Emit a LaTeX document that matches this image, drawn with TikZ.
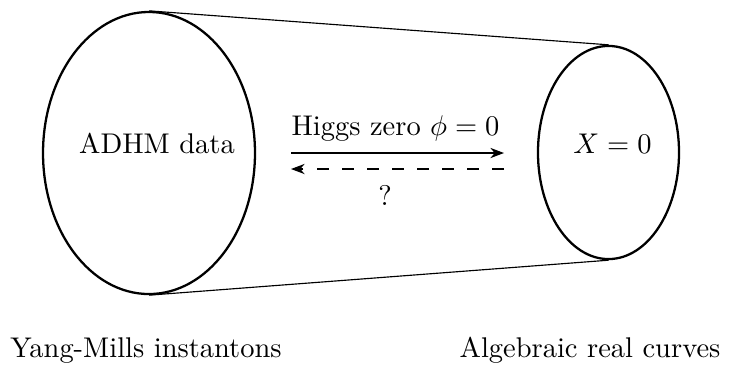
\documentclass[tikz,border=0pt]{standalone}
\usetikzlibrary{positioning,arrows.meta,shapes.geometric}

\begin{document}
\begin{tikzpicture}[
  x=0.351pt, y=-0.351pt,
  blob/.style={draw, ellipse, thick, inner sep=0pt},
  flow/.style={-Stealth},
  back/.style={-Stealth, dash pattern=on 4.1pt off 4.7pt}
]
\useasboundingbox (0,0) rectangle (731,365);
\node[blob, minimum width=74.4pt, minimum height=99pt] (adhm) at (149,153) {};
\node[blob, minimum width=49.5pt, minimum height=74.8pt] (xzero) at (608.5,152.5) {};
\node[anchor=base] (adhmtext) at (157,153) {ADHM data};
\node[anchor=base] (xtext) at (612.5,153) {$X=0$};

\draw (adhm.north) -- (xzero.north);
\draw (adhm.south) -- (xzero.south);

\coordinate (fwdstart) at (291,153);
\coordinate (fwdend) at (504,153);
\coordinate (backstart) at (504,169);
\coordinate (backend) at (291,169);
\draw[flow] (fwdstart) -- (fwdend);
\draw[back] (backstart) -- (backend);
\node[anchor=base] (higgs) at (395.5,135) {Higgs zero $\phi=0$};
\node[anchor=base] (quest) at (385,205) {?};

\node[anchor=base] (ym) at (146,357) {Yang-Mills instantons};
\node[anchor=base] (alg) at (590,357) {Algebraic real curves};
\end{tikzpicture}
\end{document}
